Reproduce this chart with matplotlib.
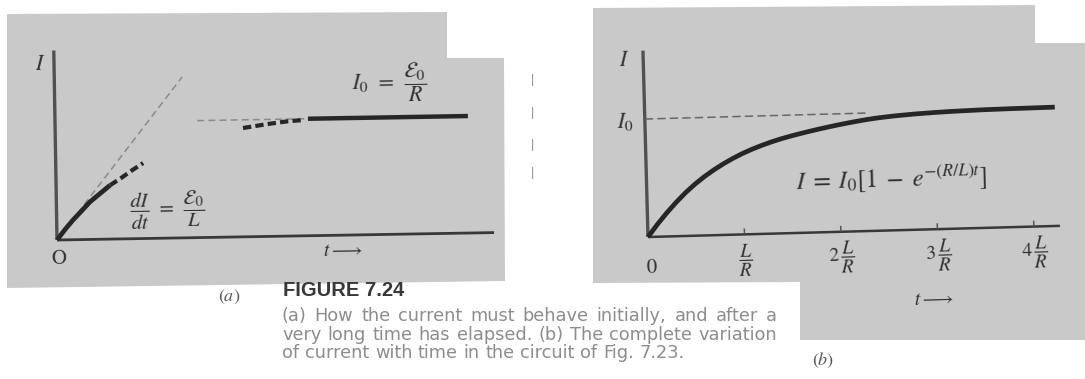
import matplotlib
matplotlib.use("Agg")
import matplotlib.pyplot as plt
from matplotlib.patches import Polygon
from matplotlib.transforms import Affine2D

plt.rcParams['mathtext.fontset'] = 'stix'
plt.rcParams['font.family'] = ['Liberation Sans', 'DejaVu Sans']
plt.rcParams['lines.scale_dashes'] = False

# ---------------- data (time in units of L/R, current in units of I0) -------------
I0 = 1.0

# (a) early rise, its continuation, the initial tangent and the late-time level
a_rise_t = [0.0, 0.09, 0.175, 0.27, 0.36, 0.47, 0.58]
a_rise_i = [0.0, 0.09, 0.168, 0.245, 0.32, 0.39, 0.46]
a_rise_dash_t = [0.58, 0.70, 0.82, 0.94]
a_rise_dash_i = [0.46, 0.52, 0.585, 0.645]
a_tangent_t = [0.0, 1.375]
a_tangent_i = [0.0, 1.375]
a_late_dash_t = [2.02, 2.28, 2.49, 2.67]
a_late_dash_i = [0.93, 0.96, 0.98, 0.99]
a_final_t = [2.72, 4.44]
a_final_i = [I0, I0]
a_asym_t = [1.53, 2.72]

# (b) complete variation of the current
b_t = [0.0, 0.1, 0.2, 0.3, 0.4, 0.5, 0.6, 0.7, 0.8, 0.9, 1.0, 1.1, 1.2, 1.3,
       1.4, 1.5, 1.6, 1.7, 1.8, 1.9, 2.0, 2.1, 2.2, 2.3, 2.4, 2.5, 2.6, 2.8,
       3.0, 3.2, 3.5, 3.8, 4.1, 4.25]
b_i = [0.0, 0.104, 0.199, 0.286, 0.366, 0.436, 0.498, 0.553, 0.602, 0.646,
       0.685, 0.719, 0.749, 0.776, 0.800, 0.821, 0.840, 0.858, 0.875, 0.891,
       0.906, 0.920, 0.933, 0.945, 0.955, 0.963, 0.970, 0.981, 0.989, 0.995,
       1.001, 1.004, 1.006, 1.007]
b_asym_t = [0.0, 2.3]
b_ticks = [1, 2, 3, 4]
b_tick_labels = [r'$\dfrac{L}{R}$', r'$2\,\dfrac{L}{R}$', r'$3\,\dfrac{L}{R}$',
                 r'$4\,\dfrac{L}{R}$']

caption_lines = [
    "(a) How the current must behave initially, and after a",
    "very long time has elapsed. (b) The complete variation",
    "of current with time in the circuit of Fig. 7.23.",
]

# ---------------- figure ----------------
W, H = 1085, 379
fig = plt.figure(figsize=(W / 100, H / 100), dpi=100)
fig.patch.set_facecolor('white')

PAPER = '#c9c9c9'
INK = '#262626'


def fpos(x, y):
    return (x / W, 1 - y / H)


def page(outline):
    fig.patches.append(Polygon([fpos(x, y) for x, y in outline], closed=True,
                               transform=fig.transFigure, facecolor=PAPER,
                               edgecolor='none', zorder=-5))


page([(7, 14), (447, 12), (447, 58), (504, 58), (505, 281), (7, 288)])
page([(593, 8), (1035, 5), (1035, 43), (1085, 43), (1085, 340), (800, 340),
      (800, 282), (593, 283)])


def panel(ox, oy, tau_px, i0_px, tmax, imax, angle):
    ax = fig.add_axes([ox / W, 1 - oy / H, tmax * tau_px / W, imax * i0_px / H])
    ax.set_xlim(0, tmax)
    ax.set_ylim(0, imax)
    ax.axis('off')
    ax.set_zorder(2)
    tr = ax.transData + Affine2D().rotate_deg_around(ox, H - oy, angle)
    return ax, tr


# ---------------- panel (a) ----------------
ang_a = 0.97
ax, tr = panel(57, 240, 93, 117, 4.7, 1.62, ang_a)
kw = dict(transform=tr, clip_on=False, solid_capstyle='butt')
ax.plot([0, 4.7], [0, 0], color='#383838', lw=2.0, **kw)
ax.plot([0, 0], [0, 1.62], color='#505050', lw=2.4, **kw)
ax.plot(a_tangent_t, a_tangent_i, color='#8a8a8a', lw=1.1, dashes=(5, 3), **kw)
ax.plot(a_asym_t, [I0, I0], color='#8a8a8a', lw=1.1, dashes=(5, 3), **kw)
ax.plot(a_rise_t, a_rise_i, color=INK, lw=3.4, solid_joinstyle='round',
        **kw)
ax.plot(a_rise_dash_t, a_rise_dash_i, color=INK, lw=3.0, dashes=(6, 3), **kw)
ax.plot(a_late_dash_t, a_late_dash_i, color=INK, lw=3.0, dashes=(6, 3), **kw)
ax.plot(a_final_t, a_final_i, color=INK, lw=3.2, **kw)

tk = dict(transform=tr, rotation=ang_a, color='#303030', ha='center', va='center')
ax.text(-0.15, 1.5, r'$I$', fontsize=16, **tk)
ax.text(0.02, -0.16, r'$\mathrm{O}$', fontsize=15, **tk)
ax.text(3.07, -0.14, r'$t \longrightarrow$', fontsize=14, **tk)
ax.text(3.6, 1.30, r'$I_0 \;\,=\;\, \dfrac{\mathcal{E}_0}{R}$', fontsize=16, **tk)
ax.text(1.19, 0.24, r'$\dfrac{dI}{dt} \;\,=\;\, \dfrac{\mathcal{E}_0}{L}$',
        fontsize=15, **tk)

# ---------------- panel (b) ----------------
ang_b = 1.55
ax, tr = panel(648, 237, 96.5, 118, 4.27, 1.58, ang_b)
kw = dict(transform=tr, clip_on=False, solid_capstyle='butt')
ax.plot([0, 4.27], [0, 0], color='#383838', lw=1.8, **kw)
ax.plot([0, 0], [0, 1.58], color='#505050', lw=2.4, **kw)
for t in b_ticks:
    ax.plot([t, t], [0, 0.05], color='#555555', lw=1.1, **kw)
ax.plot(b_asym_t, [I0, I0], color='#666666', lw=1.1, dashes=(6, 3), **kw)
ax.plot(b_t, b_i, color=INK, lw=3.4, solid_joinstyle='round', **kw)

tk = dict(transform=tr, rotation=ang_b, color='#303030', va='center')
ax.text(-0.2, 1.5, r'$I$', fontsize=16, ha='center', **tk)
ax.text(-0.2, 0.98, r'$I_0$', fontsize=16, ha='center', **tk)
ax.text(0.03, -0.26, r'$0$', fontsize=15, ha='center', **tk)
for t, lab in zip(b_ticks, b_tick_labels):
    ax.text(t, -0.22, lab, fontsize=14, ha='center', **tk)
ax.text(2.94, -0.60, r'$t \longrightarrow$', fontsize=14, ha='center', **tk)
ax.text(2.54, 0.43, r'$I \;=\; I_0\left[1 \;-\; e^{-(R/L)t}\right]$',
        fontsize=18, ha='center', **tk)

# ---------------- caption ----------------
fig.text(*fpos(229, 297), r'$(\mathit{a})$', fontsize=13, color='#555555',
         ha='center', va='center')
fig.text(*fpos(823, 360), r'$(\mathit{b})$', fontsize=13, color='#555555',
         ha='center', va='center')
fig.text(*fpos(283, 291), 'FIGURE 7.24', fontsize=14.5, fontweight='bold',
         color='#383838', ha='left', va='center')

# justified caption column from x = 282 px to x = 777 px
renderer = fig.canvas.get_renderer()
cap_size = 12.8
x_left, x_right = 282, 777
space = 0.32 * cap_size * 100 / 72
for k, line in enumerate(caption_lines):
    y = 316 + 18.5 * k
    words = [fig.text(0, 0, w, fontsize=cap_size, family='DejaVu Sans',
                      color='#8c8c8c', ha='left', va='center')
             for w in line.split(' ')]
    widths = [w.get_window_extent(renderer).width for w in words]
    if k < len(caption_lines) - 1:
        gap = (x_right - x_left - sum(widths)) / (len(words) - 1)
    else:
        gap = space
    x = x_left
    for w, wd in zip(words, widths):
        w.set_position(fpos(x, y))
        x += wd + gap

# faint show-through from the facing page
for y in (80, 113, 145, 173):
    fig.text(*fpos(533, y), '|', fontsize=9, color='#8f8f8f', ha='center',
             va='center')

fig.savefig('out.png', dpi=100, facecolor='white')
